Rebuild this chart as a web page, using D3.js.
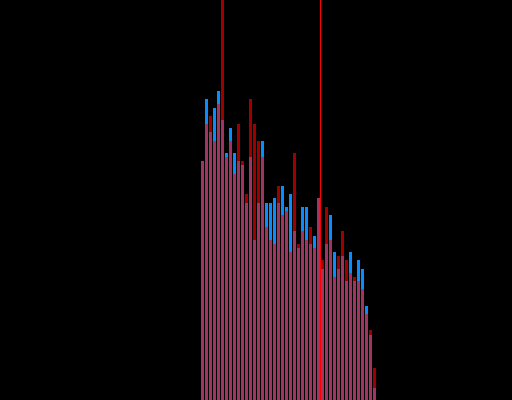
<!DOCTYPE html>
<html>
<head>
<meta charset="utf-8">
<script src="https://cdn.jsdelivr.net/npm/d3@7"></script>
<style>
    body { margin: 0; background: #000; overflow: hidden; }
</style>
</head>
<body>
<div class="mbbHistSigBg"></div>
<script>

// bin edges (mbb, GeV): 44 bins of 5 GeV starting at 50
var binStart = 50;
var binWidth = 5;

// signal counts per bin
var sigCounts = [59.75, 75.25, 67, 73, 77.25, 70, 61.75, 68, 61.75, 59.75,
    58.75, 49.25, 60.75, 40, 49.25, 64.75, 49.25, 49.25, 50.5, 49.25,
    53.5, 48.25, 51.5, 42.25, 38, 48.25, 48.25, 39, 41, 50.5,
    32.75, 39, 46.25, 37, 32.75, 36, 29.75, 37, 29.75, 35,
    32.75, 23.5, 16.25, 3];

// background counts per bin
var bgCounts = [59.75, 69, 71, 64.75, 74, 105, 60.75, 64.75, 56.5, 69,
    59.75, 51.5, 75.25, 69, 64.75, 60.75, 43.25, 40, 39, 53.5,
    46.25, 47.25, 37, 61.75, 39, 42.25, 40, 43.25, 38, 50.5,
    35, 48.25, 40, 30.75, 36, 42.25, 35, 31.75, 30.75, 29.75,
    27.75, 21.5, 17.5, 8];

// slider cut position (GeV)
var cutValue = 200;

var c = {width: 512, height: 400};

var svg = d3.select(".mbbHistSigBg").append("svg")
    .attr("width", c.width)
    .attr("height", c.height);

var x = d3.scaleLinear()
    .domain([0, 640])
    .range([160, 672]);

var y = d3.scaleLinear()
    .domain([0, 100])
    .range([c.height, 0]);

//turning counts into bins with x0/x1
function makeBins(counts) {
    return counts.map(function (d, i) {
        return {x0: binStart + i * binWidth, x1: binStart + (i + 1) * binWidth, n: d};
    });
}

//PLOTTING SIGNAL:
svg.selectAll(".sigBar")
    .data(makeBins(sigCounts))
    .enter().append("rect")
    .attr("class", "sigBar")
    .attr("fill", "#0a8cff")
    .attr("x", function (d) { return x(d.x0) + 1; })
    .attr("y", function (d) { return y(d.n); })
    .attr("width", function (d) { return x(d.x1) - x(d.x0) - 1; })
    .attr("height", function (d) { return c.height - y(d.n); });

//plotting BACKGROUND data:
svg.selectAll(".bgBar")
    .data(makeBins(bgCounts))
    .enter().append("rect")
    .attr("class", "bgBar")
    .attr("fill", "red")
    .attr("opacity", 0.62)
    .attr("x", function (d) { return x(d.x0) + 1; })
    .attr("y", function (d) { return y(d.n); })
    .attr("width", function (d) { return x(d.x1) - x(d.x0) - 1; })
    .attr("height", function (d) { return c.height - y(d.n); });

//cut line
svg.append("line")
    .attr("x1", x(cutValue) + 0.5)
    .attr("x2", x(cutValue) + 0.5)
    .attr("y1", 0)
    .attr("y2", c.height)
    .attr("stroke", "red")
    .attr("stroke-width", 1);

</script>
</body>
</html>
